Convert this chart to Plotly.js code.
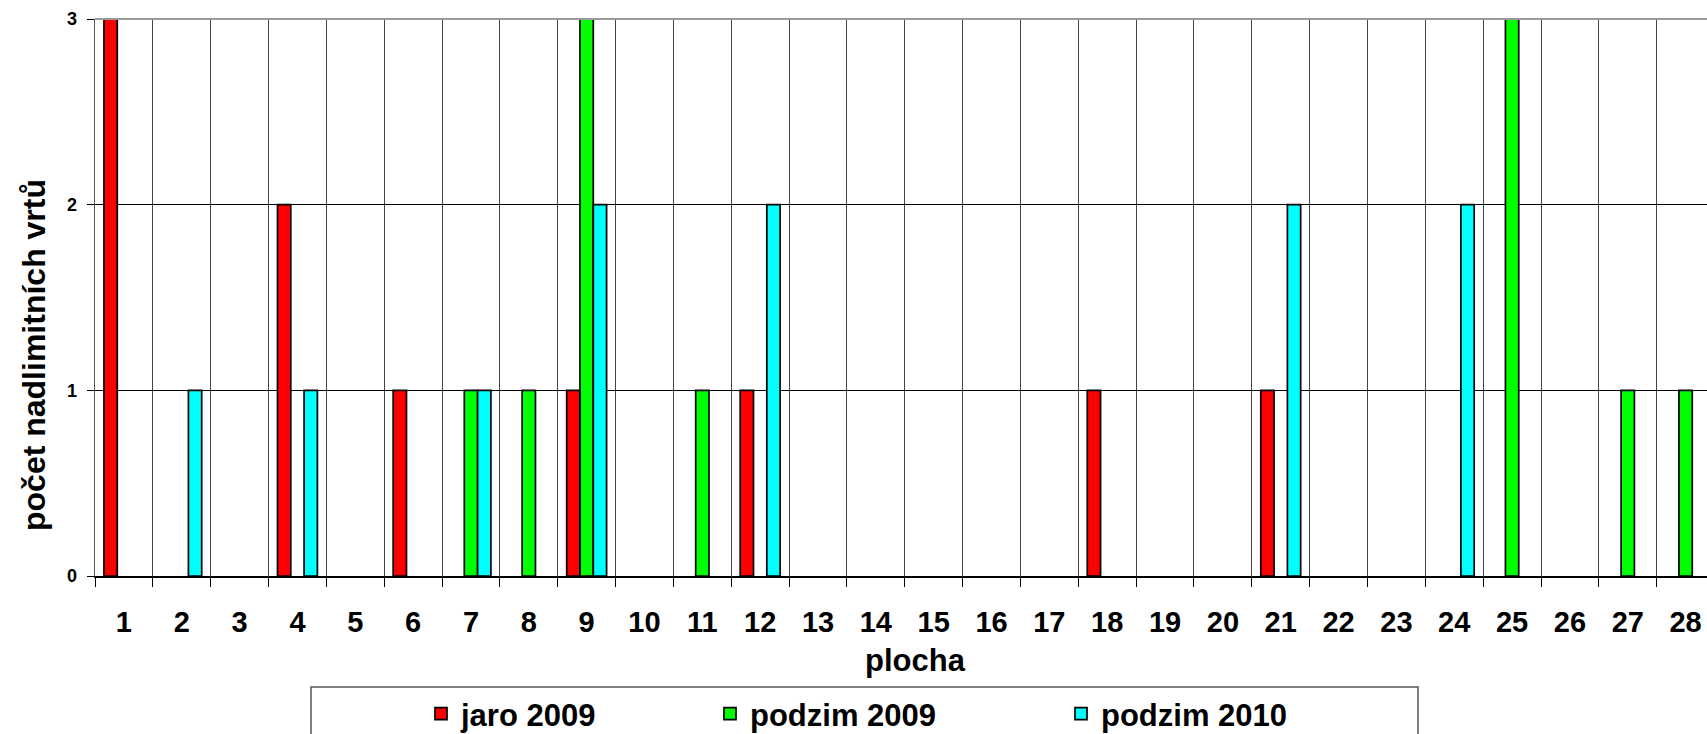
<!DOCTYPE html>
<html>
<head>
<meta charset="utf-8">
<script src="https://cdn.plot.ly/plotly-3.0.1.min.js"></script>
<style>html,body{margin:0;padding:0;background:#fff;}#chart{width:1707px;height:734px;}</style>
</head>
<body>
<div id="chart"></div>
<script>
const categories = ['1','2','3','4','5','6','7','8','9','10','11','12','13','14','15','16','17','18','19','20','21','22','23','24','25','26','27','28'];
const jaro2009   = [3,0,0,2,0,1,0,0,1,0,0,1,0,0,0,0,0,1,0,0,1,0,0,0,0,0,0,0];
const podzim2009 = [0,0,0,0,0,0,1,1,3,0,1,0,0,0,0,0,0,0,0,0,0,0,0,0,3,0,1,1];
const podzim2010 = [0,1,0,1,0,0,1,0,2,0,0,2,0,0,0,0,0,0,0,0,2,0,0,2,0,0,0,0];
const seriesNames = ['jaro 2009','podzim 2009','podzim 2010'];
const seriesColors = ['#FF0000','#00FF00','#00FFFF'];
const xTitle = 'plocha';
const yTitle = 'počet nadlimitních vrtů';

const FONT = 'Liberation Sans, Arial, sans-serif';
const W = 1707, H = 734;
const L = 95, T = 19, B = 158, R = 0;
const plotW = W - L - R, plotH = H - T - B;
const catW = 57.84;
const px2x = p => (p - L) / plotW;
const py2y = p => (H - B - p) / plotH;

const seriesData = [jaro2009, podzim2009, podzim2010];
const legendNames = ['legend','legend2','legend3'];
const markerCenters = [441, 730, 1081];

const traces = seriesData.map((vals, i) => ({
  type: 'bar',
  name: seriesNames[i],
  x: categories,
  y: vals.map(v => v === 0 ? null : v),
  marker: {color: seriesColors[i], line: {color: '#000', width: 1.7}},
  legend: legendNames[i],
  hoverinfo: 'x+y+name'
}));

const legendCommon = (i) => ({
  orientation: 'h',
  x: px2x(markerCenters[i] - 20),
  xanchor: 'left',
  y: py2y(714),
  yanchor: 'middle',
  bgcolor: 'rgba(0,0,0,0)',
  borderwidth: 0,
  font: {family: FONT, size: 31, color: '#000', weight: 'bold'}
});

const layout = {
  width: W, height: H,
  margin: {l: L, r: R, t: T, b: B, autoexpand: false},
  paper_bgcolor: '#fff',
  plot_bgcolor: '#fff',
  barmode: 'group',
  bargap: 0.31,
  bargroupgap: 0,
  font: {family: FONT, color: '#000'},
  showlegend: true,
  legend: legendCommon(0),
  legend2: legendCommon(1),
  legend3: legendCommon(2),
  xaxis: {
    type: 'category',
    range: [-0.5, plotW / catW - 0.5],
    tickson: 'boundaries',
    ticks: 'outside', ticklen: 9, tickcolor: '#000', tickwidth: 1,
    showgrid: true, gridcolor: '#444', gridwidth: 1,
    showline: true, linecolor: '#000', linewidth: 1.5,
    tickfont: {family: FONT, size: 29, color: '#000', weight: 'bold'},
    ticklabelstandoff: 20,
    automargin: false,
    fixedrange: true
  },
  yaxis: {
    range: [0, 3], dtick: 1, tick0: 0,
    ticks: 'outside', ticklen: 7, tickcolor: '#000', tickwidth: 1,
    showgrid: true, gridcolor: '#000', gridwidth: 1,
    zeroline: false,
    showline: true, linecolor: '#555', linewidth: 1.5,
    tickfont: {family: FONT, size: 18, color: '#000', weight: 'bold'},
    ticklabelstandoff: 6,
    automargin: false,
    fixedrange: true
  },
  annotations: [
    {text: yTitle, xref: 'paper', yref: 'paper', x: px2x(34), y: py2y(355),
     xanchor: 'center', yanchor: 'middle', textangle: -90, showarrow: false,
     font: {family: FONT, size: 32, color: '#000', weight: 'bold'}},
    {text: xTitle, xref: 'paper', yref: 'paper', x: px2x(915), y: py2y(660),
     xanchor: 'center', yanchor: 'middle', showarrow: false,
     font: {family: FONT, size: 31, color: '#000', weight: 'bold'}}
  ],
  shapes: [
    {type: 'rect', xref: 'paper', yref: 'paper',
     x0: px2x(311), x1: px2x(1418), y0: py2y(687), y1: py2y(745),
     line: {color: '#555', width: 1.5}, fillcolor: 'rgba(0,0,0,0)', layer: 'below'},
    {type: 'line', xref: 'paper', yref: 'paper',
     x0: 0, x1: 1, y0: 1, y1: 1, line: {color: '#999', width: 2}}
  ]
};

Plotly.newPlot('chart', traces, layout, {displayModeBar: false, staticPlot: true});
</script>
</body>
</html>
